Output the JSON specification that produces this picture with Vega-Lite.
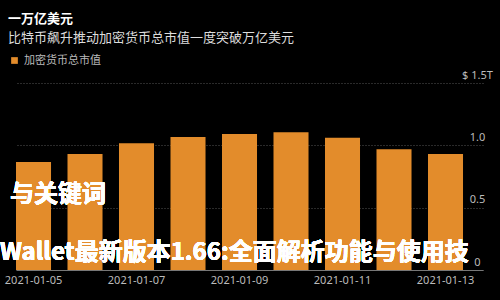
{
  "$schema": "https://vega.github.io/schema/vega-lite/v6.json",
  "autosize": {"type": "none"},
  "width": 467,
  "height": 187,
  "padding": {"left": 16, "top": 83, "right": 17, "bottom": 30},
  "background": "#000000",
  "config": {
    "view": {"stroke": null},
    "font": "Noto Sans CJK SC"
  },
  "title": {
    "text": "一万亿美元",
    "subtitle": "比特币飙升推动加密货币总市值一度突破万亿美元",
    "anchor": "start",
    "frame": "group",
    "dx": -8,
    "offset": 10,
    "fontSize": 13,
    "fontWeight": "bold",
    "color": "#ffffff",
    "subtitleFontSize": 13,
    "subtitleColor": "#dddddd",
    "subtitlePadding": 6
  },
  "data": {
    "values": [
      {"date": "2021-01-05", "cap": 0.866, "series": "加密货币总市值"},
      {"date": "2021-01-06", "cap": 0.93, "series": "加密货币总市值"},
      {"date": "2021-01-07", "cap": 1.016, "series": "加密货币总市值"},
      {"date": "2021-01-08", "cap": 1.067, "series": "加密货币总市值"},
      {"date": "2021-01-09", "cap": 1.09, "series": "加密货币总市值"},
      {"date": "2021-01-10", "cap": 1.104, "series": "加密货币总市值"},
      {"date": "2021-01-11", "cap": 1.061, "series": "加密货币总市值"},
      {"date": "2021-01-12", "cap": 0.968, "series": "加密货币总市值"},
      {"date": "2021-01-13", "cap": 0.93, "series": "加密货币总市值"}
    ]
  },
  "layer": [
    {
      "mark": {"type": "bar", "color": "#E38C2B"},
      "encoding": {
        "x": {
          "field": "date",
          "type": "ordinal",
          "scale": {"paddingInner": 0.32, "paddingOuter": 0.194, "align": 0},
          "axis": {
            "title": null,
            "labelAngle": 0,
            "values": ["2021-01-05", "2021-01-07", "2021-01-09", "2021-01-11", "2021-01-13"],
            "ticks": false,
            "domain": true,
            "domainColor": "#777777",
            "labelColor": "#bbbbbb",
            "labelFontSize": 11,
            "labelPadding": 4,
            "labelFont": "Noto Sans"
          }
        },
        "y": {
          "field": "cap",
          "type": "quantitative",
          "scale": {"domain": [0, 1.5], "nice": false},
          "axis": {
            "title": null,
            "orient": "right",
            "values": [0, 0.5, 1, 1.5],
            "labelExpr": "datum.value == 1.5 ? '$ 1.5T' : datum.value == 0 ? '0' : format(datum.value, '.1f')",
            "labelAlign": "center",
            "labelBaseline": "bottom",
            "labelPadding": -6,
            "labelOffset": -3,
            "labelColor": "#bbbbbb",
            "labelFontSize": 11,
            "labelFont": "Noto Sans",
            "ticks": false,
            "domain": false,
            "grid": true,
            "gridColor": "#555555",
            "gridDash": [1, 2]
          }
        },
        "fill": {
          "field": "series",
          "type": "nominal",
          "scale": {"range": ["#E38C2B"]},
          "legend": {
            "title": null,
            "orient": "none",
            "legendX": -7,
            "legendY": -28,
            "symbolType": "square",
            "symbolSize": 45,
            "labelColor": "#bbbbbb",
            "labelFontSize": 11
          }
        }
      }
    },
    {
      "mark": {"type": "text", "align": "left", "baseline": "middle", "fontSize": 24, "fontWeight": "bold", "color": "#ffffff", "dx": -6},
      "encoding": {
        "x": {"datum": "2021-01-05", "bandPosition": 0},
        "y": {"datum": 0.6},
        "text": {"value": "与关键词"}
      }
    },
    {
      "mark": {"type": "text", "align": "left", "baseline": "middle", "fontSize": 24, "fontWeight": "bold", "color": "#ffffff", "dx": -16},
      "encoding": {
        "x": {"datum": "2021-01-05", "bandPosition": 0},
        "y": {"datum": 0.136},
        "text": {"value": "Wallet最新版本1.66:全面解析功能与使用技"}
      }
    }
  ]
}
